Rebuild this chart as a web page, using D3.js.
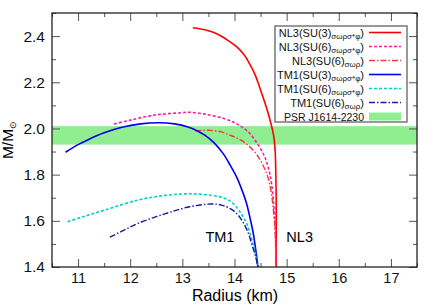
<!DOCTYPE html>
<html><head><meta charset="utf-8">
<script src="https://cdn.jsdelivr.net/npm/d3@7"></script>
<style>body{margin:0;background:#fff}svg{display:block}text{font-family:"Liberation Sans",Arial,Helvetica,sans-serif}</style>
</head><body><svg id="c" width="437" height="307"></svg>
<script>
// Data (radius km, mass M_sun)
const nl3su3 = [[13.20,2.436],[13.45,2.426],[13.66,2.41],[13.85,2.385],[14.04,2.354],[14.18,2.32],[14.29,2.28],[14.40,2.23],[14.48,2.18],[14.57,2.12],[14.64,2.07],[14.70,2.02],[14.75,1.97],[14.78,1.90],[14.79,1.83],[14.80,1.69],[14.80,1.55],[14.80,1.40]];
const nl3su6 = [[11.69,2.019],[12.0,2.036],[12.47,2.058],[12.98,2.068],[13.14,2.07],[13.43,2.062],[13.78,2.044],[14.0,2.025],[14.15,2.005],[14.29,1.979],[14.45,1.93],[14.58,1.877],[14.66,1.82],[14.71,1.762],[14.77,1.618],[14.79,1.50],[14.79,1.40]];
const nl3su6b = [[13.25,1.99],[13.5,1.992],[13.75,1.985],[13.91,1.971],[14.05,1.958],[14.23,1.933],[14.40,1.895],[14.48,1.868],[14.57,1.83],[14.64,1.79],[14.70,1.73],[14.74,1.66],[14.78,1.55],[14.79,1.40]];
const tm1su3 = [[10.76,1.897],[11.0,1.93],[11.2,1.952],[11.5,1.981],[11.84,2.005],[12.2,2.02],[12.54,2.025],[12.85,2.02],[13.11,2.006],[13.30,1.988],[13.43,1.971],[13.60,1.94],[13.78,1.892],[13.92,1.84],[14.04,1.79],[14.14,1.735],[14.23,1.676],[14.30,1.61],[14.36,1.546],[14.41,1.47],[14.45,1.40]];
const tm1su6 = [[10.80,1.596],[11.1,1.618],[11.52,1.647],[12.15,1.69],[12.6,1.708],[12.98,1.716],[13.2,1.717],[13.49,1.712],[13.78,1.70],[13.95,1.68],[14.10,1.64],[14.23,1.59],[14.33,1.52],[14.40,1.46],[14.45,1.40]];
const tm1su6b = [[11.61,1.529],[11.9,1.562],[12.15,1.589],[12.5,1.618],[12.79,1.639],[13.14,1.661],[13.56,1.673],[13.75,1.668],[13.91,1.654],[14.05,1.63],[14.16,1.595],[14.26,1.55],[14.33,1.50],[14.40,1.45],[14.45,1.40]];
const psrBand = [1.93, 2.01];
const seriesNames = [["NL3(SU(3)","σωρσ*φ"],["NL3(SU(6)","σωρσ*φ"],["NL3(SU(6)","σωρ"],["TM1(SU(3)","σωρσ*φ"],["TM1(SU(6)","σωρσ*φ"],["TM1(SU(6)","σωρ"]];
const xTicks = [11,12,13,14,15,16,17];
const yTicks = [1.4,1.6,1.8,2.0,2.2,2.4];
const xDomain = [10.5,17.5], yDomain = [1.4,2.5];

const series = [
 {d:nl3su3, c:"#ff0000", dash:null, w:1.6},
 {d:nl3su6, c:"#ff1aa0", dash:"3,2", w:1.6},
 {d:nl3su6b, c:"#ee3b3b", dash:"6,2,1.5,2", w:1.4},
 {d:tm1su3, c:"#0000ee", dash:null, w:1.6},
 {d:tm1su6, c:"#00cdcd", dash:"3,2", w:1.6},
 {d:tm1su6b, c:"#1a1a9a", dash:"6,2,1.5,2", w:1.4}
];

const svg = d3.select("#c");
const L=52, R=417, T=13, B=267;
const x = d3.scaleLinear().domain(xDomain).range([L,R]);
const y = d3.scaleLinear().domain(yDomain).range([B,T]);

svg.append("rect").attr("x",L).attr("width",R-L).attr("y",y(psrBand[1])).attr("height",y(psrBand[0])-y(psrBand[1])).attr("fill","#90ee90");

svg.append("clipPath").attr("id","cl").append("rect").attr("x",L).attr("y",T).attr("width",R-L).attr("height",B-T);
const line2 = d3.line().x(d=>x(d[0])).y(d=>y(d[1])).curve(d3.curveCatmullRom);
const g = svg.append("g").attr("clip-path","url(#cl)");
series.forEach(s=>{
  g.append("path").attr("d",line2(s.d)).attr("fill","none").attr("stroke",s.c).attr("stroke-width",s.w).attr("stroke-dasharray",s.dash);
});

const minorX = d3.range(10.5,17.51,0.5).filter(v=>Math.abs(v-Math.round(v))>0.01);
const minorY = d3.range(1.5,2.51,0.2);
function ax(axisFn, scale, tf, ticks, size, labels, fs, pad){
  const a = axisFn(scale).tickValues(ticks).tickSizeInner(-size).tickSizeOuter(0).tickPadding(size+(pad||4));
  a.tickFormat(labels ? labels : "");
  const gg = svg.append("g").attr("transform",tf).call(a);
  gg.select(".domain").remove();
  gg.selectAll("line").attr("stroke","#555").attr("stroke-width",1);
  gg.selectAll("text").attr("font-size",fs||14).attr("fill","#111").attr("font-family",'"Liberation Sans",Arial,sans-serif');
  return gg;
}
ax(d3.axisBottom,x,`translate(0,${B})`,xTicks,8,d3.format("d"),14.5,-2);
ax(d3.axisBottom,x,`translate(0,${B})`,minorX,4,null);
ax(d3.axisTop,x,`translate(0,${T})`,xTicks,8,null);
ax(d3.axisTop,x,`translate(0,${T})`,minorX,4,null);
ax(d3.axisLeft,y,`translate(${L},0)`,yTicks,8,d3.format(".1f"),15.5,-1);
ax(d3.axisLeft,y,`translate(${L},0)`,minorY,4,null);
ax(d3.axisRight,y,`translate(${R},0)`,yTicks,8,null);
ax(d3.axisRight,y,`translate(${R},0)`,minorY,4,null);

svg.append("rect").attr("x",L).attr("y",T).attr("width",R-L).attr("height",B-T).attr("fill","none").attr("stroke","#222").attr("stroke-width",1.3);

svg.append("text").attr("x",235).attr("y",301).attr("text-anchor","middle").attr("font-size",16).text("Radius (km)");
const yl = svg.append("text").attr("transform",`translate(13,140) rotate(-90)`).attr("text-anchor","middle").attr("font-size",15.5);
yl.append("tspan").text("M/M");
yl.append("tspan").attr("font-size",9).attr("dy",3).text("⊙");

svg.append("text").attr("x",x(13.72)).attr("y",y(1.508)).attr("text-anchor","middle").attr("font-size",14.5).text("TM1");
svg.append("text").attr("x",x(15.25)).attr("y",y(1.508)).attr("text-anchor","middle").attr("font-size",14.5).text("NL3");

const lg = svg.append("g");
lg.append("rect").attr("x",275).attr("y",26).attr("width",132).attr("height",96).attr("fill","#fff").attr("stroke","#555").attr("stroke-width",1.2);
series.forEach((s,i)=>{
  const yy = 32.5 + i*14;
  const t = lg.append("text").attr("x",364).attr("y",yy+4).attr("text-anchor","end").attr("font-size",11).attr("fill","#111");
  t.append("tspan").text(seriesNames[i][0]);
  t.append("tspan").attr("font-size",8).attr("dy",2.5).text(seriesNames[i][1]);
  t.append("tspan").attr("dy",-2.5).text(")");
  lg.append("line").attr("x1",369).attr("x2",401).attr("y1",yy).attr("y2",yy).attr("stroke",s.c).attr("stroke-width",s.w).attr("stroke-dasharray",s.dash);
});
lg.append("text").attr("x",364).attr("y",32.5+6*14+4.5).attr("text-anchor","end").attr("font-size",10.5).attr("fill","#111").text("PSR J1614-2230");
lg.append("rect").attr("x",369).attr("y",32.5+6*14-4).attr("width",32).attr("height",8).attr("fill","#90ee90");
</script></body></html>
